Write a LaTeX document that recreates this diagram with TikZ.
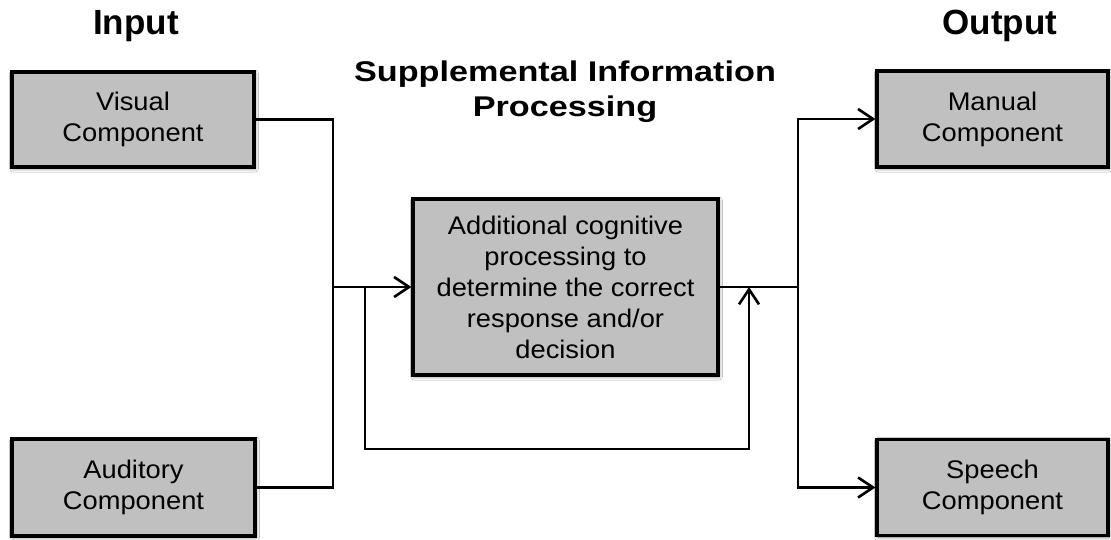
\documentclass[tikz,border=0pt]{standalone}
\usepackage{fontspec}
\setmainfont{Liberation Sans}
\newfontfamily\boxfont{Liberation Sans}[FakeStretch=1.07]
\newfontfamily\widefont{Liberation Sans}[FakeStretch=1.2]
\usetikzlibrary{arrows.meta,shadows.blur}
\definecolor{boxgray}{RGB}{192,192,192}
\tikzset{
  block/.style={draw=black, line width=3.2pt, fill=boxgray, align=center,
    font=\boxfont\fontsize{25.5}{31}\selectfont,
    blur shadow={shadow xshift=1pt, shadow yshift=-1.5pt, shadow blur radius=3.5pt, shadow opacity=55}},
  heading/.style={font=\bfseries\fontsize{35}{42}\selectfont, anchor=base},
  wire/.style={line width=2.8pt, line join=miter},
  arrowwire/.style={wire, -{Straight Barb[length=15pt, width=20pt, line width=2.6pt]}}
}
\begin{document}
\begin{tikzpicture}[x=1pt, y=-1pt]
  % page frame
  \path[fill=white] (0,0) rectangle (1111,540);
  \useasboundingbox (0,0) rectangle (1111,540);

  % headings
  \node[heading] (inhead) at (136,35) {Input};
  \node[heading] (outhead) at (1000,35) {Output};
  \node[font=\widefont\bfseries\fontsize{28.5}{35}\selectfont, align=center, anchor=base]
    (midhead) at (565,117) {Supplemental Information\\Processing};

  % boxes
  \node[block, minimum width=242pt, minimum height=95pt] (visual) at (133,119.5) {Visual\\Component};
  \node[block, minimum width=243pt, minimum height=97pt] (auditory) at (133.5,487.5) {Auditory\\Component};
  \node[block, minimum width=305pt, minimum height=176pt] (proc) at (565.5,287)
    {Additional cognitive\\processing to\\determine the correct\\response and/or\\decision};
  \node[block, minimum width=231pt, minimum height=96pt] (manual) at (992.5,119) {Manual\\Component};
  \node[block, minimum width=231pt, minimum height=96pt] (speech) at (992.5,487.5) {Speech\\Component};

  % junction points
  \coordinate (jin) at (333,287);
  \coordinate (fbstart) at (365,287);
  \coordinate (fbleft) at (365,449);
  \coordinate (fbright) at (749,449);
  \coordinate (fbend) at (749,287);
  \coordinate (jout) at (798,287);

  % input side
  \draw[wire] (visual.east) -| (jin) |- (auditory.east);
  \draw[arrowwire] (jin) -- (proc.west);

  % feedback loop
  \draw[arrowwire] (fbstart) -- (fbleft) -- (fbright) -- (fbend);

  % output side
  \draw[wire] (proc.east) -- (jout);
  \draw[arrowwire] (jout) |- (manual.west);
  \draw[arrowwire] (jout) |- (speech.west);
\end{tikzpicture}
\end{document}
